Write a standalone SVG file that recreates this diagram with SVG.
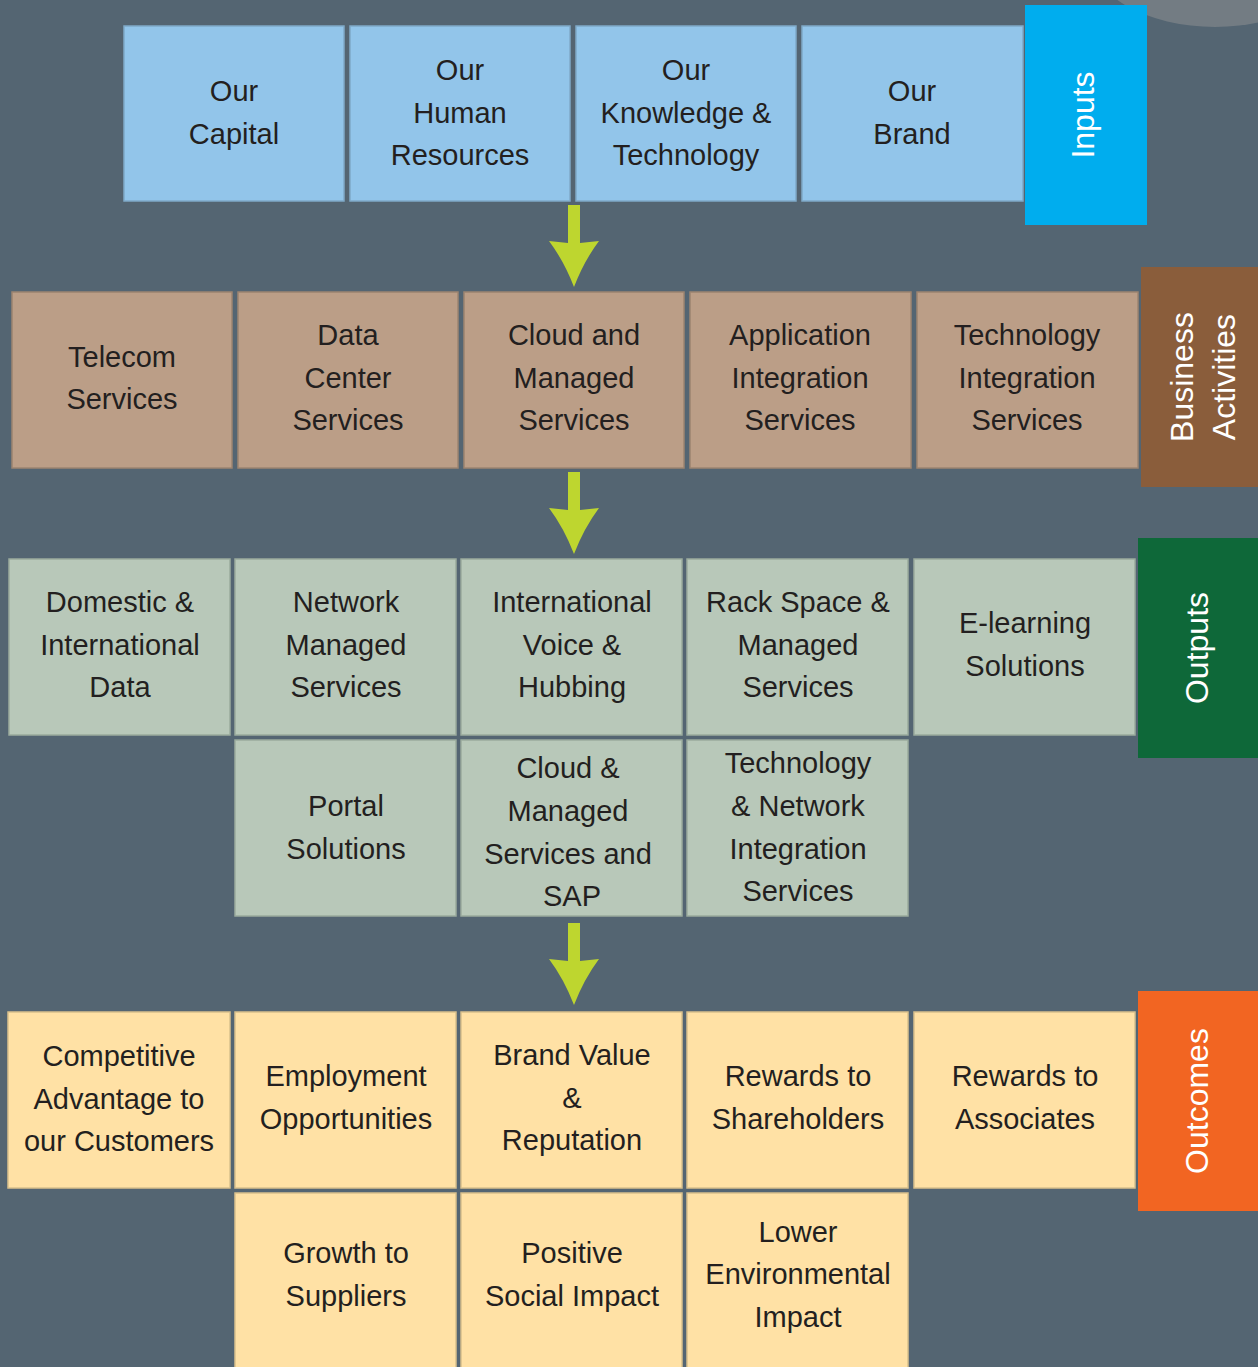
<svg xmlns="http://www.w3.org/2000/svg" width="1258" height="1367" viewBox="0 0 1258 1367">
  <style>
    .box { stroke-width: 1.5; }
    .in { fill: #92c5ea; stroke: #7fa9c8; }
    .ba { fill: #bb9e87; stroke: #9c8470; }
    .out { fill: #b8c8b9; stroke: #9aab9d; }
    .oc { fill: #ffe1a5; stroke: #d9c08c; }
    .lbl { font-family: "Liberation Sans", Arial, sans-serif; font-size: 29px; fill: #231f20; text-anchor: middle; }
    .tab { font-family: "Liberation Sans", Arial, sans-serif; font-size: 32px; fill: #ffffff; text-anchor: middle; }
    .arrow { fill: #bed62f; }
  </style>
  <defs>
    <path id="arrowShape" d="M-6,0 H6 V38 L25,36 Q10,56 0,82 Q-10,56 -25,36 L-6,38 Z"/>
  </defs>

  <!-- background -->
  <rect x="0" y="0" width="1258" height="1367" fill="#546572"/>
  <ellipse cx="1215" cy="-45" rx="125" ry="72" fill="#737c83"/>

  <!-- Inputs row -->
  <g id="input-capital"><rect class="box in" x="124" y="26" width="220" height="175"/>
    <text class="lbl" x="234" y="101">Our</text><text class="lbl" x="234" y="144">Capital</text></g>
  <g id="input-human"><rect class="box in" x="350" y="26" width="220" height="175"/>
    <text class="lbl" x="460" y="80">Our</text><text class="lbl" x="460" y="123">Human</text><text class="lbl" x="460" y="165">Resources</text></g>
  <g id="input-knowledge"><rect class="box in" x="576" y="26" width="220" height="175"/>
    <text class="lbl" x="686" y="80">Our</text><text class="lbl" x="686" y="123">Knowledge &amp;</text><text class="lbl" x="686" y="165">Technology</text></g>
  <g id="input-brand"><rect class="box in" x="802" y="26" width="221" height="175"/>
    <text class="lbl" x="912" y="101">Our</text><text class="lbl" x="912" y="144">Brand</text></g>
  <g id="tab-inputs"><rect x="1025" y="5" width="122" height="220" fill="#00adee"/>
    <text class="tab" transform="translate(1094,115) rotate(-90)">Inputs</text></g>

  <!-- Business activities row -->
  <g id="ba-telecom"><rect class="box ba" x="12" y="292" width="220" height="176"/>
    <text class="lbl" x="122" y="367">Telecom</text><text class="lbl" x="122" y="409">Services</text></g>
  <g id="ba-datacenter"><rect class="box ba" x="238" y="292" width="220" height="176"/>
    <text class="lbl" x="348" y="345">Data</text><text class="lbl" x="348" y="388">Center</text><text class="lbl" x="348" y="430">Services</text></g>
  <g id="ba-cloud"><rect class="box ba" x="464" y="292" width="220" height="176"/>
    <text class="lbl" x="574" y="345">Cloud and</text><text class="lbl" x="574" y="388">Managed</text><text class="lbl" x="574" y="430">Services</text></g>
  <g id="ba-application"><rect class="box ba" x="690" y="292" width="221" height="176"/>
    <text class="lbl" x="800" y="345">Application</text><text class="lbl" x="800" y="388">Integration</text><text class="lbl" x="800" y="430">Services</text></g>
  <g id="ba-technology"><rect class="box ba" x="917" y="292" width="221" height="176"/>
    <text class="lbl" x="1027" y="345">Technology</text><text class="lbl" x="1027" y="388">Integration</text><text class="lbl" x="1027" y="430">Services</text></g>
  <g id="tab-business"><rect x="1141" y="267" width="117" height="220" fill="#8a5d3b"/>
    <text class="tab" transform="translate(1193,377) rotate(-90)">Business</text>
    <text class="tab" transform="translate(1235,377) rotate(-90)">Activities</text></g>

  <!-- Outputs rows -->
  <g id="out-domestic"><rect class="box out" x="9" y="559" width="221" height="176"/>
    <text class="lbl" x="120" y="612">Domestic &amp;</text><text class="lbl" x="120" y="655">International</text><text class="lbl" x="120" y="697">Data</text></g>
  <g id="out-network"><rect class="box out" x="235" y="559" width="221" height="176"/>
    <text class="lbl" x="346" y="612">Network</text><text class="lbl" x="346" y="655">Managed</text><text class="lbl" x="346" y="697">Services</text></g>
  <g id="out-voice"><rect class="box out" x="461" y="559" width="221" height="176"/>
    <text class="lbl" x="572" y="612">International</text><text class="lbl" x="572" y="655">Voice &amp;</text><text class="lbl" x="572" y="697">Hubbing</text></g>
  <g id="out-rack"><rect class="box out" x="687" y="559" width="221" height="176"/>
    <text class="lbl" x="798" y="612">Rack Space &amp;</text><text class="lbl" x="798" y="655">Managed</text><text class="lbl" x="798" y="697">Services</text></g>
  <g id="out-elearning"><rect class="box out" x="914" y="559" width="221" height="176"/>
    <text class="lbl" x="1025" y="633">E-learning</text><text class="lbl" x="1025" y="676">Solutions</text></g>
  <g id="out-portal"><rect class="box out" x="235" y="740" width="221" height="176"/>
    <text class="lbl" x="346" y="816">Portal</text><text class="lbl" x="346" y="859">Solutions</text></g>
  <g id="out-cloudsap"><rect class="box out" x="461" y="740" width="221" height="176"/>
    <text class="lbl" x="568" y="778">Cloud &amp;</text><text class="lbl" x="568" y="821">Managed</text><text class="lbl" x="568" y="864">Services and</text><text class="lbl" x="572" y="906">SAP</text></g>
  <g id="out-technet"><rect class="box out" x="687" y="740" width="221" height="176"/>
    <text class="lbl" x="798" y="773">Technology</text><text class="lbl" x="798" y="816">&amp; Network</text><text class="lbl" x="798" y="859">Integration</text><text class="lbl" x="798" y="901">Services</text></g>
  <g id="tab-outputs"><rect x="1138" y="538" width="120" height="220" fill="#0e6839"/>
    <text class="tab" transform="translate(1208,648) rotate(-90)">Outputs</text></g>

  <!-- Outcomes rows -->
  <g id="oc-competitive"><rect class="box oc" x="8" y="1012" width="222" height="176"/>
    <text class="lbl" x="119" y="1066">Competitive</text><text class="lbl" x="119" y="1109">Advantage to</text><text class="lbl" x="119" y="1151">our Customers</text></g>
  <g id="oc-employment"><rect class="box oc" x="235" y="1012" width="221" height="176"/>
    <text class="lbl" x="346" y="1086">Employment</text><text class="lbl" x="346" y="1129">Opportunities</text></g>
  <g id="oc-brand"><rect class="box oc" x="461" y="1012" width="221" height="176"/>
    <text class="lbl" x="572" y="1065">Brand Value</text><text class="lbl" x="572" y="1108">&amp;</text><text class="lbl" x="572" y="1150">Reputation</text></g>
  <g id="oc-shareholders"><rect class="box oc" x="687" y="1012" width="221" height="176"/>
    <text class="lbl" x="798" y="1086">Rewards to</text><text class="lbl" x="798" y="1129">Shareholders</text></g>
  <g id="oc-associates"><rect class="box oc" x="914" y="1012" width="221" height="176"/>
    <text class="lbl" x="1025" y="1086">Rewards to</text><text class="lbl" x="1025" y="1129">Associates</text></g>
  <g id="oc-suppliers"><rect class="box oc" x="235" y="1193" width="221" height="180"/>
    <text class="lbl" x="346" y="1263">Growth to</text><text class="lbl" x="346" y="1306">Suppliers</text></g>
  <g id="oc-social"><rect class="box oc" x="461" y="1193" width="221" height="180"/>
    <text class="lbl" x="572" y="1263">Positive</text><text class="lbl" x="572" y="1306">Social Impact</text></g>
  <g id="oc-environment"><rect class="box oc" x="687" y="1193" width="221" height="180"/>
    <text class="lbl" x="798" y="1242">Lower</text><text class="lbl" x="798" y="1284">Environmental</text><text class="lbl" x="798" y="1327">Impact</text></g>
  <g id="tab-outcomes"><rect x="1138" y="991" width="120" height="220" fill="#f26522"/>
    <text class="tab" transform="translate(1208,1101) rotate(-90)">Outcomes</text></g>

  <!-- Flow arrows between stages -->
  <g id="connectors" class="arrow">
    <use href="#arrowShape" transform="translate(574,205)"/>
    <use href="#arrowShape" transform="translate(574,472)"/>
    <use href="#arrowShape" transform="translate(574,923)"/>
  </g>
</svg>
